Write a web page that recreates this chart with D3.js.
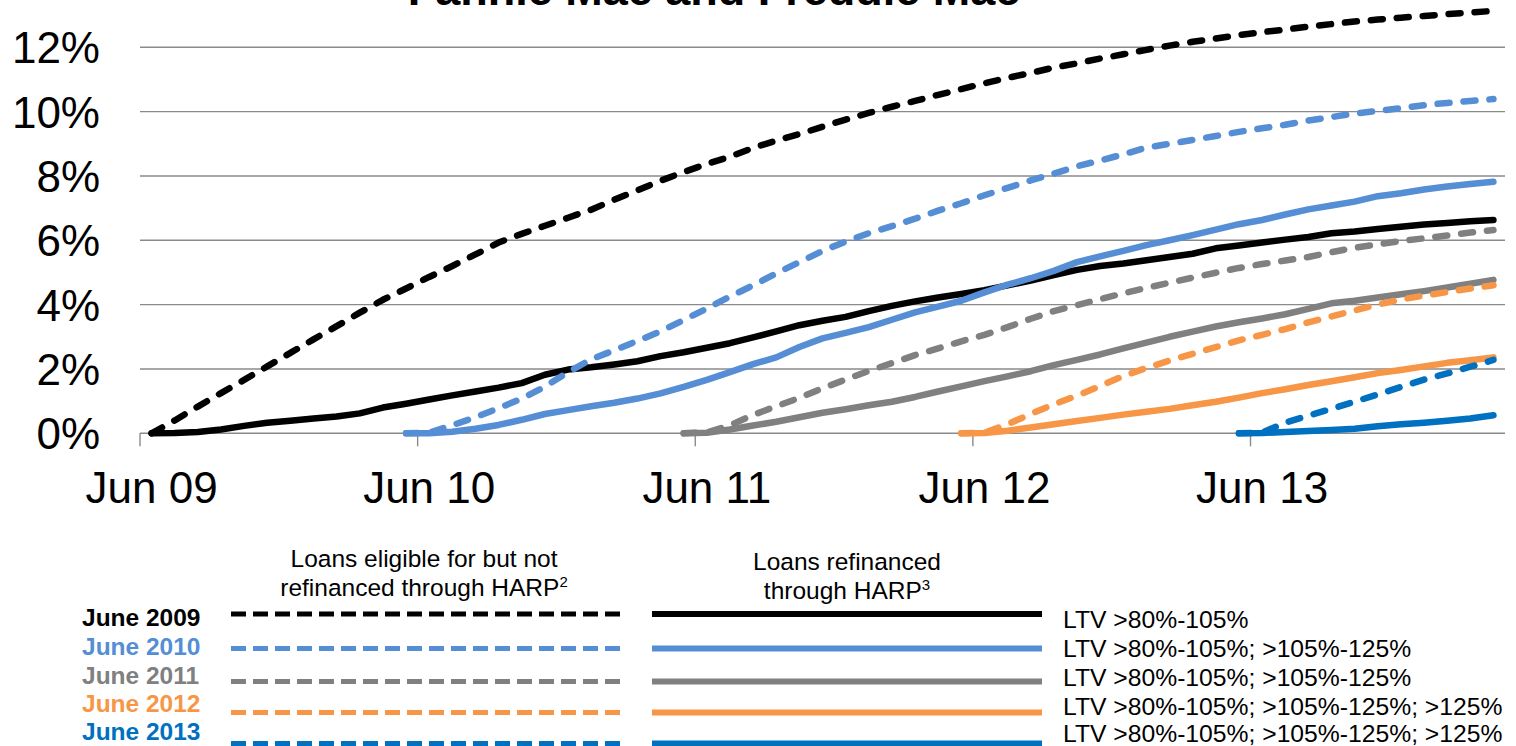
<!DOCTYPE html>
<html><head><meta charset="utf-8">
<script src="https://cdn.jsdelivr.net/npm/d3@7"></script>
<style>
html,body{margin:0;padding:0;background:#fff;overflow:hidden}
svg{display:block}
text{font-family:"Liberation Sans",Arial,Helvetica,sans-serif}
</style>
</head><body>
<svg id="chart" width="1516" height="746"></svg>
<script>
// ---------- DATA ----------
const months = d3.timeMonth.range(new Date(2009,5,1), new Date(2014,4,1)).map(d3.timeFormat("%b %y")); // Jun 09 .. Apr 14
const xTickLabels = ["Jun 09","Jun 10","Jun 11","Jun 12","Jun 13"];
const yTickValues = [0,2,4,6,8,10,12];
const title = "Fannie Mae and Freddie Mac";

const cohorts = ["June 2009","June 2010","June 2011","June 2012","June 2013"];
const cohortStart = ["Jun 09","May 10","May 11","May 12","May 13"];
const cohortColors = ["#000000","#558ED5","#808080","#F79646","#0070C0"];
const ltvLabels = [
  "LTV >80%-105%",
  "LTV >80%-105%; >105%-125%",
  "LTV >80%-105%; >105%-125%",
  "LTV >80%-105%; >105%-125%; >125%",
  "LTV >80%-105%; >105%-125%; >125%"
];

// Loans eligible for but not refinanced through HARP (%), from cohort start month
const eligible2009 = [0,0.4,0.83,1.25,1.66,2.08,2.5,2.92,3.33,3.75,4.15,4.5,4.86,5.2,5.56,5.93,6.2,6.45,6.7,6.95,7.26,7.55,7.85,8.12,8.37,8.6,8.87,9.1,9.3,9.53,9.75,9.96,10.15,10.33,10.52,10.7,10.88,11.05,11.2,11.37,11.5,11.65,11.78,11.92,12.05,12.17,12.27,12.38,12.47,12.55,12.64,12.72,12.8,12.86,12.92,12.97,13.03,13.08,13.13];
const eligible2010 = [0,0.02,0.25,0.5,0.78,1.08,1.45,1.9,2.3,2.58,2.87,3.17,3.52,3.88,4.25,4.6,4.97,5.32,5.67,5.96,6.22,6.44,6.67,6.92,7.15,7.4,7.63,7.86,8.07,8.3,8.48,8.67,8.88,9.0,9.12,9.24,9.37,9.48,9.59,9.72,9.83,9.94,10.02,10.11,10.2,10.27,10.33,10.39];
const eligible2011 = [0,0.03,0.25,0.57,0.84,1.1,1.4,1.67,1.94,2.18,2.43,2.64,2.86,3.06,3.3,3.56,3.8,3.98,4.17,4.35,4.52,4.68,4.84,4.99,5.14,5.26,5.37,5.48,5.63,5.77,5.87,5.98,6.06,6.15,6.24,6.32];
const eligible2012 = [0,0.02,0.28,0.6,0.9,1.17,1.47,1.78,2.03,2.26,2.47,2.68,2.89,3.06,3.24,3.45,3.63,3.82,4.0,4.16,4.28,4.39,4.5,4.6];
const eligible2013 = [0,0.02,0.33,0.55,0.76,0.98,1.21,1.44,1.67,1.86,2.07,2.28];

// Loans refinanced through HARP (%), from cohort start month
const refinanced2009 = [0,0.01,0.04,0.12,0.23,0.33,0.39,0.46,0.52,0.62,0.8,0.92,1.05,1.18,1.3,1.42,1.56,1.82,1.98,2.05,2.14,2.24,2.4,2.52,2.66,2.8,2.98,3.17,3.36,3.5,3.62,3.8,3.96,4.1,4.22,4.33,4.45,4.6,4.75,4.92,5.08,5.2,5.28,5.38,5.48,5.58,5.75,5.84,5.93,6.02,6.1,6.22,6.27,6.35,6.42,6.49,6.54,6.59,6.63];
const refinanced2010 = [0,0,0.05,0.14,0.26,0.42,0.6,0.72,0.84,0.95,1.08,1.24,1.44,1.66,1.9,2.15,2.36,2.68,2.95,3.12,3.3,3.53,3.76,3.94,4.12,4.38,4.62,4.82,5.05,5.32,5.5,5.67,5.85,6.0,6.16,6.33,6.5,6.63,6.8,6.96,7.08,7.2,7.37,7.46,7.58,7.67,7.75,7.82];
const refinanced2011 = [0,0.02,0.12,0.24,0.36,0.5,0.64,0.75,0.87,0.98,1.13,1.3,1.46,1.62,1.77,1.93,2.12,2.28,2.45,2.64,2.82,3.0,3.16,3.32,3.45,3.57,3.7,3.87,4.04,4.12,4.22,4.32,4.42,4.53,4.65,4.77];
const refinanced2012 = [0,0.01,0.08,0.18,0.28,0.38,0.48,0.58,0.67,0.76,0.87,0.98,1.11,1.25,1.37,1.5,1.62,1.74,1.87,1.97,2.08,2.19,2.27,2.36];
const refinanced2013 = [0,0.01,0.04,0.07,0.1,0.14,0.22,0.28,0.33,0.39,0.46,0.56];

const eligibleSeries = [eligible2009,eligible2010,eligible2011,eligible2012,eligible2013];
const refinancedSeries = [refinanced2009,refinanced2010,refinanced2011,refinanced2012,refinanced2013];

// ---------- LAYOUT ----------
const svg = d3.select("#chart");
const plot = {left:140, right:1505, zeroY:433.3, topY:-17.1};

const x = d3.scaleBand().domain(months).range([plot.left, plot.right]).paddingInner(0).paddingOuter(0);
const xc = m => x(m) + x.bandwidth()/2;
const y = d3.scaleLinear().domain([0,14]).range([plot.zeroY, plot.topY]);

// title (partially cropped at top, as in the reference)
svg.append("text").attr("x",714).attr("y",5).attr("text-anchor","middle")
  .attr("font-size",45).attr("font-weight","bold").attr("fill","#000").text(title);

// gridlines
svg.append("g").selectAll("line").data(yTickValues.filter(v=>v>0)).join("line")
  .attr("x1",plot.left).attr("x2",plot.right)
  .attr("y1",d=>y(d)).attr("y2",d=>y(d))
  .attr("stroke","#8a8a8a").attr("stroke-width",1.4);

// y labels
svg.append("g").selectAll("text").data(yTickValues).join("text")
  .attr("x",100).attr("y",d=>y(d)+16).attr("text-anchor","end")
  .attr("font-size",44).attr("fill","#000").text(d=>d+"%");

// x axis line + ticks
svg.append("line").attr("x1",plot.left).attr("x2",plot.right)
  .attr("y1",y(0)).attr("y2",y(0)).attr("stroke","#8a8a8a").attr("stroke-width",1.4);
svg.append("g").selectAll("line").data(xTickLabels).join("line")
  .attr("x1",d=>x(d)).attr("x2",d=>x(d)).attr("y1",y(0)).attr("y2",y(0)+13)
  .attr("stroke","#8a8a8a").attr("stroke-width",1.4);
svg.append("g").selectAll("text").data(xTickLabels).join("text")
  .attr("x",d=>xc(d)).attr("y",503).attr("text-anchor","middle")
  .attr("font-size",44).attr("fill","#000").text(d=>d);

// lines
const line = d3.line().x(d=>xc(d.m)).y(d=>y(d.v)).curve(d3.curveLinear);
function pts(values, start){
  const s = months.indexOf(start);
  return values.map((v,i)=>({m:months[s+i], v}));
}
const gLines = svg.append("g");
cohorts.forEach((c,k)=>{
  gLines.append("path").datum(pts(eligibleSeries[k], cohortStart[k]))
    .attr("d",line).attr("fill","none").attr("stroke",cohortColors[k])
    .attr("stroke-width",6.5).attr("stroke-linecap","round").attr("stroke-linejoin","round")
    .attr("stroke-dasharray","12,14");
  gLines.append("path").datum(pts(refinancedSeries[k], cohortStart[k]))
    .attr("d",line).attr("fill","none").attr("stroke",cohortColors[k])
    .attr("stroke-width",6.5).attr("stroke-linecap","round").attr("stroke-linejoin","round");
});

// ---------- LEGEND ----------
const lg = svg.append("g");
function header(cx, y1, l1, l2, sup){
  lg.append("text").attr("x",cx).attr("y",y1).attr("text-anchor","middle")
    .attr("font-size",24.5).attr("fill","#000").text(l1);
  const t = lg.append("text").attr("x",cx).attr("y",y1+29).attr("text-anchor","middle")
    .attr("font-size",24.5).attr("fill","#000");
  t.append("tspan").text(l2);
  t.append("tspan").attr("font-size",15).attr("dy",-9).text(sup);
}
header(424, 567, "Loans eligible for but not", "refinanced through HARP", "2");
header(847, 570, "Loans refinanced", "through HARP", "3");

const rowLineY = [614, 648.5, 681.5, 712.5, 743.5];
const rowYearY = [626, 655, 684, 712, 740];
const rowLtvY  = [628, 657, 686, 715, 742];
cohorts.forEach((c,k)=>{
  lg.append("text").attr("x",82).attr("y",rowYearY[k]).attr("font-size",24.5)
    .attr("font-weight","bold").attr("fill",cohortColors[k]).text(c);
  lg.append("line").attr("x1",231).attr("x2",620).attr("y1",rowLineY[k]).attr("y2",rowLineY[k])
    .attr("stroke",cohortColors[k]).attr("stroke-width",5).attr("stroke-dasharray","15,7");
  lg.append("line").attr("x1",652).attr("x2",1042).attr("y1",rowLineY[k]).attr("y2",rowLineY[k])
    .attr("stroke",cohortColors[k]).attr("stroke-width",6);
  lg.append("text").attr("x",1063).attr("y",rowLtvY[k]).attr("font-size",24.7)
    .attr("fill","#000").text(ltvLabels[k]);
});
</script>
</body></html>
